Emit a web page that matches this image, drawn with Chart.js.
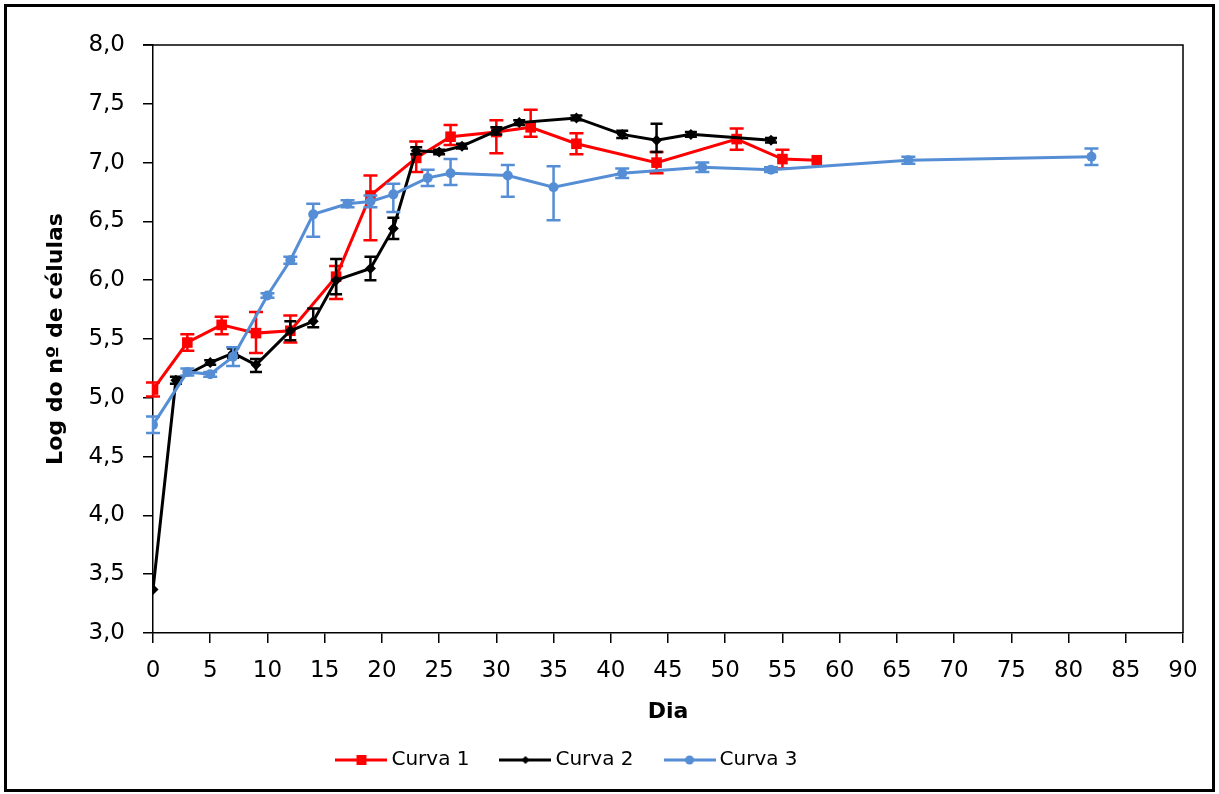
<!DOCTYPE html>
<html lang="pt">
<head>
<meta charset="utf-8">
<title>Curvas de crescimento</title>
<script src="https://cdn.jsdelivr.net/npm/chart.js@4.4.1/dist/chart.umd.min.js"></script>
<style>
  html, body { margin: 0; padding: 0; background: #fff; }
  #wrap { position: relative; width: 1219px; height: 794px; }
</style>
</head>
<body>
<div id="wrap"><canvas id="grafico"></canvas></div>
<script>
// Curva 1
const dias1 = [0, 3, 6, 9, 12, 16, 19, 23, 26, 30, 33, 37, 44, 51, 55, 58];
const curva1 = [5.07, 5.47, 5.62, 5.55, 5.57, 6.03, 6.72, 7.04, 7.22, 7.26, 7.30, 7.16, 7.00, 7.20, 7.03, 7.02];
const erroSup1 = [0.06, 0.07, 0.07, 0.18, 0.13, 0.09, 0.17, 0.14, 0.10, 0.10, 0.15, 0.09, 0.09, 0.09, 0.08, 0];
const erroInf1 = [0.06, 0.07, 0.08, 0.17, 0.10, 0.19, 0.38, 0.12, 0.07, 0.18, 0.08, 0.09, 0.09, 0.09, 0.08, 0];

// Curva 2
const dias2 = [0, 2, 5, 7, 9, 12, 14, 16, 19, 21, 23, 25, 27, 30, 32, 37, 41, 44, 47, 54];
const curva2 = [3.37, 5.15, 5.30, 5.38, 5.28, 5.57, 5.65, 6.00, 6.10, 6.44, 7.10, 7.09, 7.14, 7.27, 7.34, 7.38, 7.24, 7.19, 7.24, 7.19];
const erroSup2 = [0, 0.03, 0.02, 0.04, 0.05, 0.08, 0.11, 0.18, 0.10, 0.09, 0.03, 0.02, 0.02, 0.03, 0.02, 0.02, 0.03, 0.14, 0.02, 0.02];
const erroInf2 = [0, 0.03, 0.02, 0.04, 0.06, 0.08, 0.05, 0.12, 0.10, 0.09, 0.03, 0.02, 0.02, 0.03, 0.02, 0.02, 0.03, 0.10, 0.02, 0.02];

// Curva 3
const dias3 = [0, 3, 5, 7, 10, 12, 14, 17, 19, 21, 24, 26, 31, 35, 41, 48, 54, 66, 82];
const curva3 = [4.77, 5.22, 5.20, 5.35, 5.87, 6.17, 6.56, 6.65, 6.67, 6.73, 6.87, 6.91, 6.89, 6.79, 6.91, 6.96, 6.94, 7.02, 7.05];
const erroSup3 = [0.07, 0.03, 0.02, 0.08, 0.02, 0.03, 0.09, 0.03, 0.05, 0.09, 0.07, 0.12, 0.09, 0.18, 0.04, 0.04, 0.02, 0.03, 0.07];
const erroInf3 = [0.07, 0.03, 0.02, 0.08, 0.02, 0.03, 0.19, 0.03, 0.05, 0.15, 0.07, 0.10, 0.18, 0.28, 0.04, 0.04, 0.02, 0.03, 0.07];

const nomes = ['Curva 1', 'Curva 2', 'Curva 3'];
const cores = ['#ff0000', '#000000', '#558ed5'];

const fonte = 'DejaVu Sans';

function pontos(dias, valores) {
  return dias.map((d, i) => ({ x: d, y: valores[i] }));
}

// amostra da legenda: traço + marcador
function amostra(cor, tipo) {
  const c = document.createElement('canvas');
  c.width = 52;
  c.height = 14;
  const g = c.getContext('2d');
  g.strokeStyle = cor;
  g.fillStyle = cor;
  g.lineWidth = 3;
  g.beginPath();
  g.moveTo(0, 7);
  g.lineTo(52, 7);
  g.stroke();
  g.beginPath();
  if (tipo === 'rect') {
    g.rect(21, 2, 10, 10);
  } else if (tipo === 'rectRot') {
    g.moveTo(26, 3); g.lineTo(30, 7); g.lineTo(26, 11); g.lineTo(22, 7);
    g.closePath();
  } else {
    g.arc(26, 7, 4.5, 0, Math.PI * 2);
  }
  g.fill();
  return c;
}

const erros = [
  { sup: erroSup1, inf: erroInf1, cap: 7 },
  { sup: erroSup2, inf: erroInf2, cap: 6 },
  { sup: erroSup3, inf: erroInf3, cap: 7 }
];

const barrasErro = {
  id: 'barrasErro',
  afterDatasetDraw(chart, args) {
    const e = erros[args.index];
    if (!e) return;
    const ds = chart.data.datasets[args.index];
    const { x: sx, y: sy } = chart.scales;
    const ctx = chart.ctx;
    ctx.save();
    ctx.strokeStyle = ds.borderColor;
    ctx.lineWidth = 2.5;
    ds.data.forEach((p, i) => {
      const up = e.sup[i], dn = e.inf[i];
      if (!up && !dn) return;
      const px = sx.getPixelForValue(p.x);
      const yTop = sy.getPixelForValue(p.y + up);
      const yBot = sy.getPixelForValue(p.y - dn);
      ctx.beginPath();
      ctx.moveTo(px, yTop); ctx.lineTo(px, yBot);
      ctx.moveTo(px - e.cap, yTop); ctx.lineTo(px + e.cap, yTop);
      ctx.moveTo(px - e.cap, yBot); ctx.lineTo(px + e.cap, yBot);
      ctx.stroke();
    });
    ctx.restore();
  }
};

const molduras = {
  id: 'molduras',
  afterLayout(chart) {
    // legenda um pouco à esquerda do centro
    if (chart.legend) {
      chart.legend.left -= 26;
      chart.legend.right -= 26;
    }
  },
  beforeDraw(chart) {
    const ctx = chart.ctx;
    ctx.save();
    ctx.fillStyle = '#fff';
    ctx.fillRect(0, 0, chart.width, chart.height);
    ctx.strokeStyle = '#000';
    ctx.lineWidth = 3;
    ctx.strokeRect(5.5, 5.5, chart.width - 11, chart.height - 9);
    ctx.restore();
  },
  afterDraw(chart) {
    const a = chart.chartArea;
    const ctx = chart.ctx;
    ctx.save();
    ctx.strokeStyle = '#000';
    ctx.lineWidth = 1.5;
    ctx.beginPath();
    ctx.moveTo(a.left - 10, a.top);
    ctx.lineTo(a.right, a.top);
    ctx.lineTo(a.right, a.bottom);
    ctx.stroke();
    ctx.restore();
  }
};

const tipos = ['rect', 'rectRot', 'circle'];
const raios = [7.5, 5.5, 5];
const series = [[dias1, curva1], [dias2, curva2], [dias3, curva3]];

const datasets = series.map(([d, v], i) => ({
  label: nomes[i],
  data: pontos(d, v),
  borderColor: cores[i],
  backgroundColor: cores[i],
  borderWidth: 3,
  pointStyle: tipos[i],
  pointRadius: raios[i],
  pointBorderWidth: 0,
  pointHoverRadius: raios[i],
  tension: 0,
  order: 3 - i
}));

new Chart(document.getElementById('grafico'), {
  type: 'line',
  data: { datasets },
  plugins: [molduras, barrasErro],
  options: {
    responsive: true,
    maintainAspectRatio: false,
    animation: false,
    layout: { padding: { left: 8, top: 45, right: 36, bottom: 14 } },
    plugins: {
      tooltip: { enabled: false },
      legend: {
        position: 'bottom',
        sort: (a, b) => a.datasetIndex - b.datasetIndex,
        labels: {
          usePointStyle: true,
          pointStyleWidth: 40,
          padding: 36,
          color: '#000',
          font: { family: fonte, size: 20 },
          generateLabels(chart) {
            return chart.data.datasets.map((ds, i) => ({
              text: ds.label,
              pointStyle: amostra(cores[i], tipos[i]),
              fillStyle: cores[i],
              strokeStyle: cores[i],
              lineWidth: 0,
              hidden: false,
              datasetIndex: i,
              fontColor: '#000'
            }));
          }
        }
      }
    },
    scales: {
      x: {
        type: 'linear',
        min: 0,
        max: 90,
        afterFit(scale) { scale.height = 81; },
        ticks: {
          stepSize: 5,
          padding: 14,
          color: '#000',
          font: { family: fonte, size: 23 }
        },
        grid: { drawOnChartArea: false, drawTicks: true, tickLength: 10, color: '#000', lineWidth: 1.5 },
        border: { display: true, color: '#000', width: 1.5 },
        title: {
          display: true,
          text: 'Dia',
          color: '#000',
          padding: { top: 0, bottom: -11 },
          font: { family: fonte, size: 22, weight: 'bold' }
        }
      },
      y: {
        min: 3,
        max: 8,
        afterFit(scale) { scale.width = 145; },
        ticks: {
          stepSize: 0.5,
          padding: 18,
          color: '#000',
          font: { family: fonte, size: 23 },
          callback: (v) => v.toFixed(1).replace('.', ',')
        },
        grid: { drawOnChartArea: false, drawTicks: true, tickLength: 10, color: '#000', lineWidth: 1.5 },
        border: { display: true, color: '#000', width: 1.5 },
        title: {
          display: true,
          text: 'Log do nº de células',
          color: '#000',
          padding: { top: 35, bottom: 35 },
          font: { family: fonte, size: 22, weight: 'bold' }
        }
      }
    }
  }
});
</script>
</body>
</html>
